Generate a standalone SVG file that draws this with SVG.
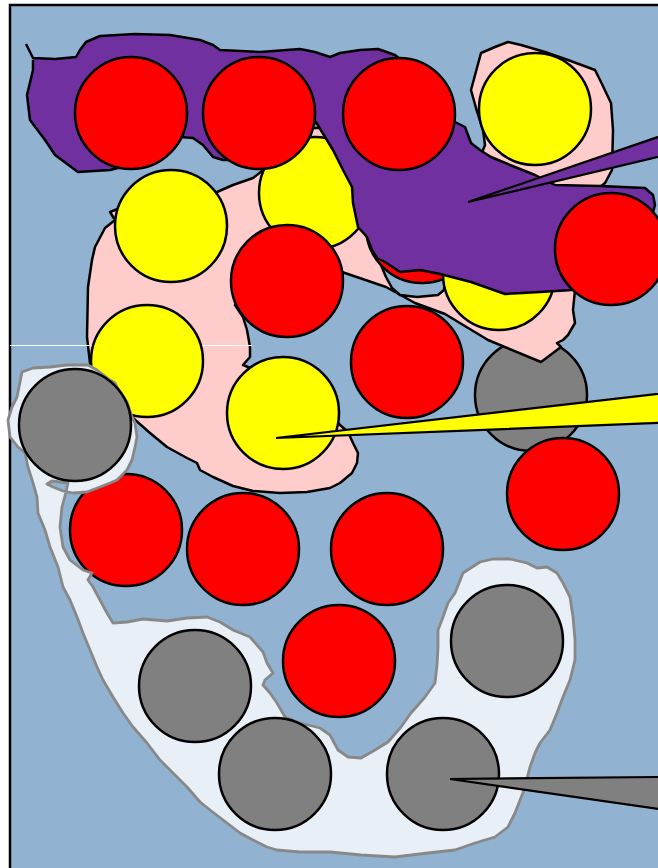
<svg xmlns="http://www.w3.org/2000/svg" width="658" height="868" viewBox="0 0 658 868">
<style>
.c{stroke:#000;stroke-width:2.5}
.r{fill:#ff0000}
.y{fill:#ffff00}
.g{fill:#808080}
.blob{stroke:#000;stroke-width:2.5;stroke-linejoin:round}
.pink{fill:#ffcccc}
.purple{fill:#7030a0}
.pale{fill:#e8eff6;stroke:#888888;stroke-width:2.8;stroke-linejoin:round;fill-rule:evenodd}
.w{stroke:#000;stroke-width:2.2;stroke-linejoin:miter}
</style>
<rect x="10" y="5" width="700" height="900" fill="#91b3d1" stroke="#000" stroke-width="2.5"/>
<g id="gray2"><circle class="c g" cx="531" cy="395" r="56"/></g>
<g id="pinkblob1"><path class="blob pink" d="M110,212 L115,220 L105,228 L95,247 L92,260 L88,287 L87,337 L90,363 L100,390 L133,418 L150,433 L167,447 L187,458 L197,463 L200,470 L213,477 L233,486 L253,491 L280,493 L307,492 L330,488 L340,483 L352,473 L357,463 L358,453 L353,443 L348,432 L340,425 L320,400 L290,372 L255,368 L248,367 L243,365 L250,357 L250,347 L247,330 L243,317 L235,305 L280,320 L330,280 L342,272 L386,287 L415,303 L445,314 L488,340 L541,362 L561,347 L557,343 L563,340 L568,335 L575,323 L573,310 L575,290 L578,265 L560,255 L450,245 L390,230 L345,200 L330,160 L328,128 L305,128 L275,162 L262,171 L253,178 L233,185 L217,192 L190,197 L150,200 L120,208 Z"/></g>
<g id="pinkblob2"><path class="blob pink" d="M471,90 L481,53 L495,47 L508,42 L521,45 L545,52 L568,60 L595,70 L601,82 L611,103 L613,130 L612,170 L605,183 L590,195 L520,185 L490,165 L481,155 L485,145 L483,130 L476,108 Z"/></g>
<g id="hole"><path class="blob" fill="#91b3d1" d="M378,258 L386,277 L392,288 L400,295 L417,297 L438,295 L444,290 L446,265 L400,250 Z"/></g>
<line x1="10" y1="345.5" x2="252" y2="345.5" stroke="#ffffff" stroke-width="1"/>
<g id="red-hidden"><circle class="c r" cx="422" cy="227" r="56"/></g>
<g id="yellow6"><circle class="c y" cx="499" cy="274" r="56"/></g>
<g id="yellow2"><circle class="c y" cx="315" cy="193" r="56"/></g>
<g id="purpleblob"><path class="blob purple" d="M26,44 L33,58 L55,59 L76,57 L80,50 L86,42 L100,36 L135,34 L170,35 L200,40 L213,45 L220,50 L260,52 L300,49 L315,52 L330,57 L340,53 L360,50 L378,49 L395,55 L420,75 L455,122 L465,127 L471,143 L480,150 L491,157 L515,167 L535,175 L555,185 L600,186 L645,188 L653,195 L655,205 L640,260 L572,290 L540,292 L505,294 L471,282 L440,274 L420,270 L400,272 L385,262 L377,258 L372,250 L367,237 L358,227 L353,203 L352,187 L343,170 L333,150 L322,132 L316,122 L300,140 L270,160 L223,160 L213,157 L203,145 L193,138 L180,137 L150,160 L110,170 L78,172 L55,155 L45,140 L30,120 L27,95 L33,70 L33,60"/></g>
<g id="red1"><circle class="c r" cx="131" cy="113" r="56"/></g>
<g id="red2"><circle class="c r" cx="259" cy="113" r="56"/></g>
<g id="red3"><circle class="c r" cx="399" cy="114" r="56"/></g>
<g id="red4"><circle class="c r" cx="611" cy="249" r="56"/></g>
<g id="red5"><circle class="c r" cx="287" cy="281" r="56"/></g>
<g id="yellow1"><circle class="c y" cx="535" cy="109" r="56"/></g>
<g id="yellow3"><circle class="c y" cx="171" cy="226" r="56"/></g>
<g id="yellow4"><circle class="c y" cx="147" cy="361" r="56"/></g>
<g id="yellow5"><circle class="c y" cx="283" cy="413" r="56"/></g>
<g id="red6"><circle class="c r" cx="407" cy="362" r="56"/></g>
<g id="red7"><circle class="c r" cx="563" cy="494" r="56"/></g>
<g id="red8"><circle class="c r" cx="126" cy="530" r="56"/></g>
<g id="red9"><circle class="c r" cx="243" cy="549" r="56"/></g>
<g id="red10"><circle class="c r" cx="387" cy="549" r="56"/></g>
<g id="red11"><circle class="c r" cx="339" cy="661" r="56"/></g>
<g id="paleblob"><path class="pale" d="M22,372 L33,368 L50,367 L67,365 L88,365 L97,370 L110,380 L115,383 L117,387 L127,402 L132,417 L135,423 L137,437 L135,447 L132,460 L127,470 L117,480 L110,483 L100,487 L87,492 L73,493 L63,491 L53,487 L47,484 L52,481 L68,483 L66,492 L62,507 L60,527 L63,547 L70,560 L83,570 L92,573 L88,580 L93,587 L100,600 L107,613 L113,623 L127,622 L143,619 L167,621 L187,618 L207,617 L220,622 L233,630 L250,637 L263,652 L267,663 L273,673 L265,680 L263,685 L270,693 L277,703 L285,717 L300,723 L320,728 L330,735 L338,750 L348,757 L361,758 L375,750 L388,742 L401,727 L411,713 L425,697 L435,683 L437,665 L438,647 L438,630 L443,617 L448,603 L455,593 L463,573 L480,562 L493,559 L510,559 L527,563 L537,568 L547,567 L557,573 L563,583 L570,597 L573,617 L575,640 L575,660 L570,680 L563,697 L557,713 L550,730 L540,743 L535,753 L530,767 L524,790 L515,813 L508,827 L495,837 L475,843 L455,850 L428,853 L395,857 L361,855 L330,852 L300,852 L277,850 L267,847 L253,840 L240,833 L227,823 L210,810 L200,802 L187,787 L173,773 L160,760 L147,743 L133,727 L123,713 L113,697 L103,680 L97,667 L90,650 L83,633 L77,617 L70,600 L63,587 L58,567 L50,547 L45,530 L38,513 L37,497 L33,483 L28,467 L25,453 L18,447 L10,437 L8,420 L12,407 L17,397 Z"/></g>
<g id="gray1"><circle class="c g" cx="75" cy="425" r="56"/></g>
<g id="gray3"><circle class="c g" cx="507" cy="641" r="56"/></g>
<g id="gray4"><circle class="c g" cx="443" cy="774" r="56"/></g>
<g id="gray5"><circle class="c g" cx="195" cy="686" r="56"/></g>
<g id="gray6"><circle class="c g" cx="275" cy="774" r="56"/></g>
<g id="connectors">
<path class="w" fill="#7030a0" d="M468,202 L700,122.6 L700,147 Z"/>
<path class="w" fill="#ffff00" d="M276,438 L700,389 L700,421.3 Z"/>
<path class="w" fill="#808080" d="M450,779 L700,776.6 L700,815 Z"/>
</g>
</svg>
